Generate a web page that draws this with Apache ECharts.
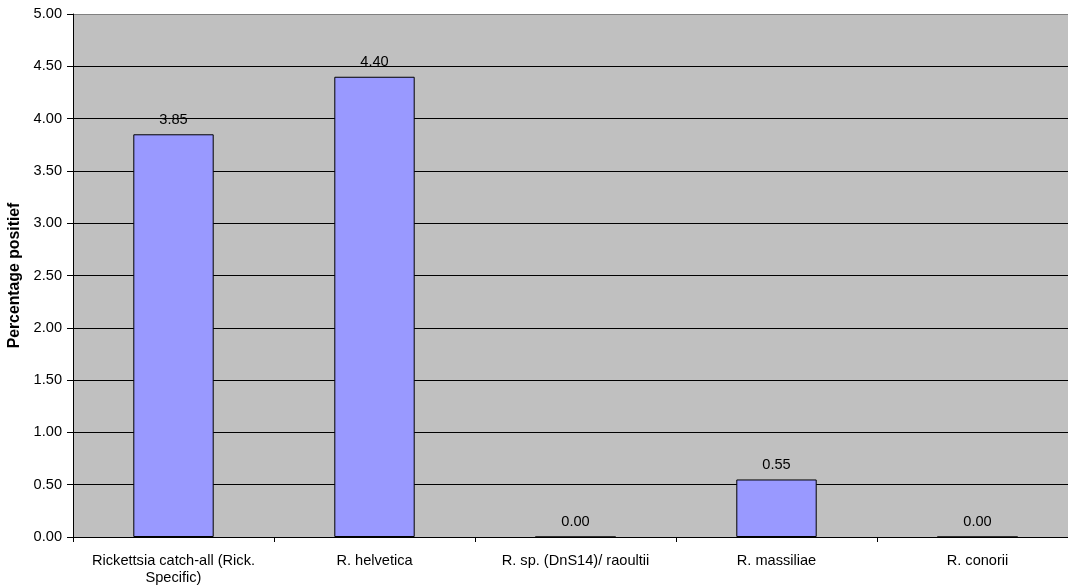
<!DOCTYPE html>
<html>
<head>
<meta charset="utf-8">
<script src="https://cdn.jsdelivr.net/npm/echarts@6/dist/echarts.min.js"></script>
<style>
  html, body { margin: 0; padding: 0; background: #ffffff; }
  #chart { width: 1068px; height: 588px; }
</style>
</head>
<body>
<div id="chart"></div>
<script>
// Rickettsia species: percentage of positive samples
const categories = [
  'Rickettsia catch-all (Rick.\nSpecific)',
  'R. helvetica',
  'R. sp. (DnS14)/ raoultii',
  'R. massiliae',
  'R. conorii'
];
const percentPositive = [3.85, 4.40, 0.00, 0.55, 0.00];
const yAxisTitle = 'Percentage positief';

const chart = echarts.init(document.getElementById('chart'), null, { renderer: 'canvas' });

const font = '"Liberation Sans", Arial, sans-serif';
const textSize = 14.6;

// gridlines are black; the topmost one forms the grey top edge of the plot
const gridLineColors = ['#000000', '#000000', '#000000', '#000000', '#000000',
  '#000000', '#000000', '#000000', '#000000', '#000000', '#808080'];

chart.setOption({
  animation: false,
  backgroundColor: '#ffffff',
  grid: {
    left: 73, right: -10, top: 14, bottom: 51,
    outerBoundsMode: 'none',
    containLabel: false,
    show: true,
    backgroundColor: '#C0C0C0',
    borderWidth: 0
  },
  xAxis: {
    type: 'category',
    data: categories,
    axisLine: { lineStyle: { color: '#000000', width: 1 } },
    axisTick: { show: true, length: 5, alignWithLabel: false, lineStyle: { color: '#000000' } },
    axisLabel: {
      interval: 0,
      margin: 15,
      color: '#000000',
      fontFamily: font,
      fontSize: textSize,
      lineHeight: 17
    },
    splitLine: { show: false }
  },
  yAxis: {
    type: 'value',
    min: 0,
    max: 5,
    interval: 0.5,
    name: yAxisTitle,
    nameLocation: 'middle',
    nameGap: 49,
    nameTextStyle: { fontFamily: font, fontSize: 15.8, fontWeight: 'bold', color: '#000000' },
    axisLine: { show: true, lineStyle: { color: '#000000', width: 1 } },
    axisTick: { show: true, length: 6, lineStyle: { color: '#000000' } },
    axisLabel: {
      margin: 11,
      color: '#000000',
      fontFamily: font,
      fontSize: textSize,
      formatter: v => v.toFixed(2)
    },
    splitLine: { show: true, lineStyle: { color: gridLineColors, width: 1 } }
  },
  series: [{
    type: 'bar',
    data: percentPositive,
    barWidth: '40%',
    itemStyle: { color: '#9999FF', borderColor: '#000000', borderWidth: 1 },
    label: {
      show: true,
      position: 'top',
      distance: 7,
      color: '#000000',
      fontFamily: font,
      fontSize: textSize,
      formatter: p => p.value.toFixed(2)
    }
  }]
});
</script>
</body>
</html>
